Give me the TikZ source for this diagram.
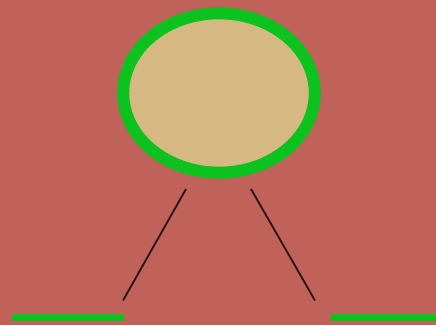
\documentclass[tikz,border=0pt]{standalone}
\usetikzlibrary{shapes.geometric}
\definecolor{bg}{HTML}{C0615A}
\definecolor{grn}{HTML}{0BC21E}
\definecolor{skin}{HTML}{D5B882}
\definecolor{dark}{HTML}{2A1210}
\tikzset{
  ring/.style={draw=grn, fill=skin, line width=12pt},
  bar/.style={fill=grn, draw=none},
  leg/.style={draw=dark, line width=1.8pt}
}
\begin{document}
\begin{tikzpicture}[x=1pt,y=-1pt]
\fill[bg] (0,0) rectangle (436,325);
\useasboundingbox (0,0) rectangle (436,325);
\node[ring, ellipse, minimum width=191.6pt, minimum height=159.4pt, inner sep=0pt] (head) at (219,93) {};
\coordinate (a1) at (186,189);
\coordinate (a2) at (123,300.5);
\coordinate (b1) at (251,189);
\coordinate (b2) at (315,300.5);
\draw[leg] (a1) -- (a2);
\draw[leg] (b1) -- (b2);
\node[bar, minimum width=112pt, minimum height=7.7pt, inner sep=0pt, anchor=north west] (lbar) at (11.3,313.3) {};
\node[bar, minimum width=105pt, minimum height=7.7pt, inner sep=0pt, anchor=north west] (rbar) at (331,313.3) {};
\end{tikzpicture}
\end{document}
